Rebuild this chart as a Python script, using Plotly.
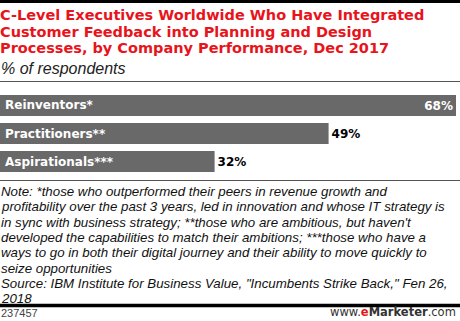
import plotly.graph_objects as go

categories = ["Reinventors*", "Practitioners**", "Aspirationals***"]
values = [68, 49, 32]
value_labels = ["68%", "49%", "32%"]

title_lines = [
    "C-Level Executives Worldwide Who Have Integrated",
    "Customer Feedback into Planning and Design",
    "Processes, by Company Performance, Dec 2017",
]
subtitle = "% of respondents"
note_lines = [
    "Note: *those who outperformed their peers in revenue growth and",
    "profitability over the past 3 years, led in innovation and whose IT strategy is",
    "in sync with business strategy; **those who are ambitious, but haven't",
    "developed the capabilities to match their ambitions; ***those who have a",
    "ways to go in both their digital journey and their ability to move quickly to",
    "seize opportunities",
    "Source: IBM Institute for Business Value, \"Incumbents Strike Back,\" Fen 26,",
    "2018",
]
chart_id = "237457"

W, H = 460, 321
BAR = "#696969"
RED = "#e8141c"
FONT = "Liberation Sans"
BOLD = "DejaVu Sans"


def py(px):
    return 1 - px / H


text_pos = ["inside" if v >= 60 else "outside" for v in values]
text_col = ["white" if p == "inside" else "black" for p in text_pos]

fig = go.Figure()
fig.add_trace(go.Bar(
    y=categories, x=values, orientation="h",
    marker=dict(color=BAR, line=dict(width=0)),
    text=value_labels, textposition=text_pos,
    insidetextanchor="end",
    textfont=dict(family=BOLD, size=12, color=text_col, weight="bold"),
    cliponaxis=False, width=0.75, hoverinfo="skip",
))

for c in categories:
    fig.add_annotation(x=0, y=c, xref="x", yref="y", text=c, showarrow=False,
                       xanchor="left", xshift=3,
                       font=dict(family=BOLD, size=12, color="white", weight="bold"))

ann = []
ty = [15.5, 32, 48.5]
for t, yy in zip(title_lines, ty):
    ann.append(dict(x=0, y=py(yy), xref="paper", yref="paper", text=t, showarrow=False,
                    xanchor="left", yanchor="middle", xshift=-2,
                    font=dict(family=BOLD, size=14.5, color=RED, weight="bold")))
ann.append(dict(x=0, y=py(68.5), xref="paper", yref="paper", text=subtitle, showarrow=False,
                xanchor="left", yanchor="middle", xshift=-1,
                font=dict(family=FONT, size=16, color="#222222", style="italic")))
for i, t in enumerate(note_lines):
    ann.append(dict(x=0, y=py(191.5 + i * 15.3), xref="paper", yref="paper", text=t, showarrow=False,
                    xanchor="left", yanchor="middle", xshift=-1,
                    font=dict(family=FONT, size=13.3, color="#111111", style="italic")))
ann.append(dict(x=0, y=0, xref="paper", yref="paper", text=chart_id, showarrow=False,
                xanchor="left", yanchor="bottom", xshift=-1,
                font=dict(family=FONT, size=11, color="#444444")))
ann.append(dict(x=1, y=0, xref="paper", yref="paper",
                text="www.<span style='color:%s'><b>e</b></span><b>Marketer</b>.com" % RED,
                showarrow=False, xanchor="right", yanchor="bottom", xshift=-2,
                font=dict(family=BOLD, size=11.5, color="#333333")))
for a in ann:
    fig.add_annotation(**a)

shapes = [
    dict(type="line", xref="paper", yref="paper", x0=0, x1=1, y0=py(1.5), y1=py(1.5),
         line=dict(color="black", width=3)),
    dict(type="line", xref="paper", yref="paper", x0=0, x1=1, y0=py(81.5), y1=py(81.5),
         line=dict(color="#555555", width=1)),
    dict(type="line", xref="paper", yref="paper", x0=0, x1=1, y0=py(180.5), y1=py(180.5),
         line=dict(color="#555555", width=1)),
    dict(type="line", xref="paper", yref="paper", x0=0, x1=1, y0=py(305.5), y1=py(305.5),
         line=dict(color="black", width=3.5)),
]
for s in shapes:
    fig.add_shape(**s)

fig.update_layout(
    width=W, height=H, margin=dict(l=0, r=0, t=0, b=0),
    paper_bgcolor="white", plot_bgcolor="white", showlegend=False,
    xaxis=dict(range=[0, 68 * W / 456], visible=False, fixedrange=True),
    yaxis=dict(domain=[py(175.5), py(91.5)], autorange="reversed", visible=False, fixedrange=True),
    bargap=0.25,
)
fig.write_html("out.html")
